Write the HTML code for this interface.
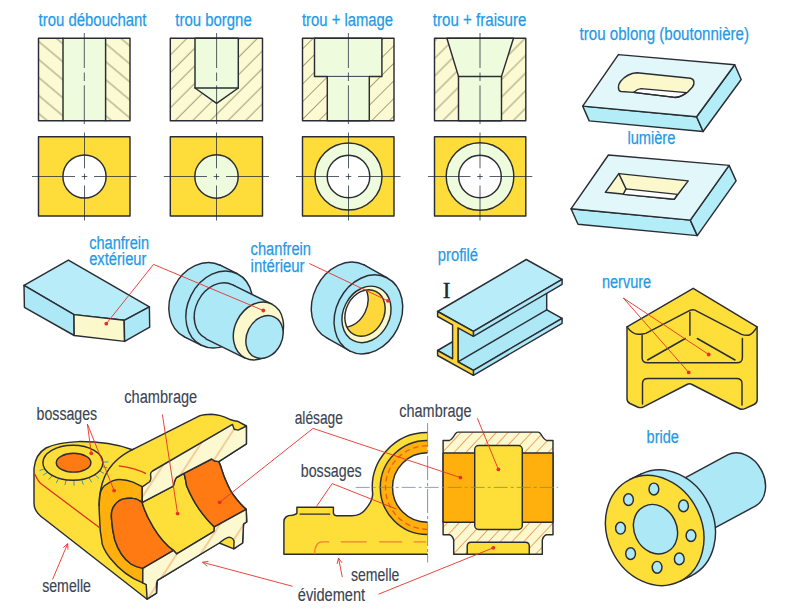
<!DOCTYPE html>
<html><head><meta charset="utf-8">
<style>
html,body{margin:0;padding:0;background:#fff;width:788px;height:614px;overflow:hidden}
svg{display:block}
.bt{font-family:"Liberation Sans",sans-serif;font-size:18px;fill:#1f9ae6;stroke:#1f9ae6;stroke-width:0.25}
.dt{font-family:"Liberation Sans",sans-serif;font-size:18px;fill:#3a4452;stroke:#3a4452;stroke-width:0.15}
.k{stroke:#2a2d33;stroke-width:1.45;stroke-linejoin:round;stroke-linecap:round}
.kt{stroke:#1f2a36;stroke-width:0.9}
.cl{stroke:#1f2a36;stroke-width:0.75;fill:none}
.rl{stroke:#e8302a;stroke-width:0.9;fill:none}
.rd{fill:#e8302a}
</style></head>
<body>
<svg width="788" height="614" viewBox="0 0 788 614">
<defs>
<pattern id="hb" patternUnits="userSpaceOnUse" width="40" height="13.8" patternTransform="rotate(40)">
  <rect width="40" height="13.8" fill="#fbfad3"/>
  <path d="M-1,6.9 H41" stroke="#6b6a3a" stroke-width="0.7"/>
</pattern>
<pattern id="hf2" patternUnits="userSpaceOnUse" width="40" height="12.45" patternTransform="rotate(-45)">
  <rect width="40" height="12.45" fill="#fbfad3"/>
  <path d="M-1,9.9 H41 M-1,22.35 H41" stroke="#66653a" stroke-width="0.65"/>
</pattern>
<pattern id="hf3" patternUnits="userSpaceOnUse" width="40" height="12.45" patternTransform="rotate(-45)">
  <rect width="40" height="12.45" fill="#fbfad3"/>
  <path d="M-1,12.05 H41 M-1,24.5 H41" stroke="#66653a" stroke-width="0.65"/>
</pattern>
<pattern id="hf4" patternUnits="userSpaceOnUse" width="40" height="12.45" patternTransform="rotate(-45)">
  <rect width="40" height="12.45" fill="#fbfad3"/>
  <path d="M-1,0 H41 M-1,12.45 H41" stroke="#66653a" stroke-width="0.65"/>
</pattern>

<pattern id="ho" patternUnits="userSpaceOnUse" width="10" height="10">
  <rect width="10" height="10" fill="#fbf8d2"/>
  <path d="M0,10 L10,0 M-5,5 L5,-5 M5,15 L15,5" stroke="#f0a050" stroke-width="0.7"/>
</pattern>
</defs>

<!-- ============ TOP ROW LABELS ============ -->
<text class="bt" x="38.5" y="25.7" textLength="108" lengthAdjust="spacingAndGlyphs">trou débouchant</text>
<text class="bt" x="175.3" y="25.7" textLength="76.4" lengthAdjust="spacingAndGlyphs">trou borgne</text>
<text class="bt" x="302" y="25.7" textLength="91" lengthAdjust="spacingAndGlyphs">trou + lamage</text>
<text class="bt" x="432.8" y="25.7" textLength="93.6" lengthAdjust="spacingAndGlyphs">trou + fraisure</text>

<!-- col1 section -->
<g>
<rect x="38.5" y="38.2" width="91.5" height="82.6" fill="url(#hb)"/>
<rect x="63" y="38.2" width="42.6" height="82.6" fill="#eefcdd"/>
<rect x="38.5" y="38.2" width="91.5" height="82.6" fill="none" class="k"/>
<path d="M63,38.2 V120.8 M105.6,38.2 V120.8" class="k"/>
<path d="M84.3,33 V68 M84.3,72.5 V81 M84.3,85.3 V124" class="cl"/>
</g>
<!-- col1 plan -->
<g>
<rect x="38.5" y="136.8" width="91.5" height="79.2" fill="#fedd3a" class="k"/>
<circle cx="84.5" cy="176.5" r="21.6" fill="#ffffff" class="k"/>
<path d="M32,176.5 H75 M81.7,176.5 H87.3 M94,176.5 H136.5 M84.5,132.5 V168.3 M84.5,173.8 V179.5 M84.5,185.5 V220.5" class="cl"/>
</g>

<!-- col2 section -->
<g>
<rect x="170.3" y="38.2" width="92.2" height="82.6" fill="url(#hf2)"/>
<path d="M195,38.2 V88 L216.6,103.3 L238.3,88 V38.2 Z" fill="#eefcdd" class="k"/>
<path d="M195,88 H238.3" class="k"/>
<rect x="170.3" y="38.2" width="92.2" height="82.6" fill="none" class="k"/>
<path d="M216.6,33 V68 M216.6,72.5 V81 M216.6,85.3 V124" class="cl"/>
</g>
<g>
<rect x="170.3" y="136.8" width="92.2" height="79.2" fill="#fedd3a" class="k"/>
<circle cx="216.5" cy="176.5" r="21.7" fill="#eefcdd" class="k"/>
<path d="M163.8,176.5 H207 M213.7,176.5 H219.3 M226,176.5 H269 M216.5,132.5 V168.3 M216.5,173.8 V179.5 M216.5,185.5 V220.5" class="cl"/>
</g>

<!-- col3 section -->
<g>
<rect x="302.5" y="38.2" width="91.5" height="82.6" fill="url(#hf3)"/>
<path d="M314.5,38.2 V76.4 H327.3 V120.8 H369.3 V76.4 H381.9 V38.2 Z" fill="#eefcdd" class="k"/>
<path d="M327.3,76.4 H369.3" class="kt"/>
<rect x="302.5" y="38.2" width="91.5" height="82.6" fill="none" class="k"/>
<path d="M348.4,33 V68 M348.4,72.5 V81 M348.4,85.3 V124" class="cl"/>
</g>
<g>
<rect x="302.5" y="136.8" width="91.5" height="79.2" fill="#fedd3a" class="k"/>
<circle cx="348.5" cy="176.5" r="33.5" fill="#eefcdd" class="k"/>
<circle cx="348.5" cy="176.5" r="21.3" fill="#ffffff" class="k"/>
<path d="M296,176.5 H339 M345.7,176.5 H351.3 M358,176.5 H400.5 M348.5,132.5 V168.3 M348.5,173.8 V179.5 M348.5,185.5 V220.5" class="cl"/>
</g>

<!-- col4 section -->
<g>
<rect x="434.5" y="38.2" width="91.3" height="82.6" fill="url(#hf4)"/>
<path d="M446.9,38.2 L458.5,76.4 V120.8 H501.5 V76.4 L513.5,38.2 Z" fill="#eefcdd" class="k"/>
<path d="M458.5,76.4 H501.5" class="k"/>
<rect x="434.5" y="38.2" width="91.3" height="82.6" fill="none" class="k"/>
<path d="M480,33 V68 M480,72.5 V81 M480,85.3 V124" class="cl"/>
</g>
<g>
<rect x="434.5" y="136.8" width="91.3" height="79.2" fill="#fedd3a" class="k"/>
<circle cx="480" cy="176.5" r="33.8" fill="#eefcdd" class="k"/>
<circle cx="480" cy="176.5" r="21.3" fill="#ffffff" class="k"/>
<path d="M428,176.5 H470.5 M477.2,176.5 H482.8 M489.5,176.5 H532.3 M480,132.5 V168.3 M480,173.8 V179.5 M480,185.5 V220.5" class="cl"/>
</g>

<!--TOPRIGHT-->
<text class="bt" x="579.6" y="40.3" textLength="169.4" lengthAdjust="spacingAndGlyphs">trou oblong (boutonnière)</text>
<g>
<path d="M582.7,106.1 L696.6,116.7 L703.1,131.5 L589.2,120.9 Z" fill="#b3eef8" class="k"/>
<path d="M696.6,116.7 L734.7,64.7 L741.2,79.5 L703.1,131.5 Z" fill="#b3eef8" class="k"/>
<path d="M618.4,54.6 L734.7,64.7 L696.6,116.7 L582.7,106.1 Z" fill="#e2f7fa" class="k"/>
<path d="M636.9,72.8 L690.5,78.3 C695,79.5 694.5,84 692.5,87 L687.5,92.3 C684,95 680,97.4 674.7,97.4 L633.3,92.4 L621,91.5 C617.5,90.5 617.8,85 620.5,81.5 C625,76 630,73.3 636.9,72.8 Z" fill="#fbf8cc"/>
<path d="M634.3,91.9 C636.5,89.8 638.5,88.7 641,88.6 L686.4,92.6 C683,95.5 679,97.4 674.7,97.4 L633.3,92.4 Z" fill="#ffffff" class="k"/>
<path d="M636.9,72.8 L690.5,78.3 C695,79.5 694.5,84 692.5,87 L687.5,92.3 C684,95 680,97.4 674.7,97.4 L633.3,92.4 L621,91.5 C617.5,90.5 617.8,85 620.5,81.5 C625,76 630,73.3 636.9,72.8 Z" fill="none" class="k"/>
</g>
<text class="bt" x="627.4" y="144.4" textLength="48" lengthAdjust="spacingAndGlyphs">lumière</text>
<g>
<path d="M571,208.8 L690.3,220.1 L697.3,235.6 L578,224.3 Z" fill="#b3eef8" class="k"/>
<path d="M690.3,220.1 L729.1,165.4 L736.1,180.9 L697.3,235.6 Z" fill="#b3eef8" class="k"/>
<path d="M608.4,155 L729.1,165.4 L690.3,220.1 L571,208.8 Z" fill="#e2f7fa" class="k"/>
<path d="M618.8,173.6 L688.2,180.9 L674.2,199.3 L605.3,192.3 Z" fill="#fbf8cc" class="k"/>
<path d="M626,188.9 L677.4,194.4 L674.2,199.3 L623.2,194.4 Z" fill="#ffffff" class="k"/>
<path d="M618.8,173.6 L626,188.9" class="k"/>
</g>

<!--ROW2-->
<text class="bt" x="89.2" y="249" textLength="60" lengthAdjust="spacingAndGlyphs">chanfrein</text>
<text class="bt" x="89.2" y="265.2" textLength="57.2" lengthAdjust="spacingAndGlyphs">extérieur</text>
<g>
<path d="M68.4,260.1 L149.4,306.9 L124.2,320.3 L74,314.6 L24,285.3 Z" fill="#b8ecf9" class="k"/>
<path d="M24,285.3 L74,314.6 L74.2,335.5 L24.4,307.3 Z" fill="#ade8f7" class="k"/>
<path d="M74,314.6 L124.2,320.3 L124.6,341.4 L74.2,335.5 Z" fill="#fbf8cc" class="k"/>
<path d="M124.2,320.3 L149.4,306.9 L149.7,327.1 L124.6,341.4 Z" fill="#ade8f7" class="k"/>
</g>
<!-- shaft -->
<g>
<ellipse cx="202.3" cy="301" rx="31.6" ry="40" transform="rotate(26.6 202.3 301)" fill="#ade8f7" class="k"/>
<path d="M220.2,265.2 L237.2,273.7 L201.4,345.3 L184.4,336.8 Z" fill="#ade8f7"/>
<path d="M220.2,265.2 L237.2,273.7 M184.4,336.8 L201.4,345.3" class="k"/>
<ellipse cx="219.3" cy="309.5" rx="31.6" ry="40" transform="rotate(26.6 219.3 309.5)" fill="#ade8f7" class="k"/>
<ellipse cx="219.3" cy="311.6" rx="23.7" ry="30" transform="rotate(26.6 219.3 311.6)" fill="#ade8f7" class="k"/>
<path d="M232.7,284.8 L271.8,304.2 L245,358.2 L205.9,338.8 Z" fill="#ade8f7"/>
<path d="M232.7,284.8 L271.8,304.2 M205.9,338.8 L245,358.2" class="k"/>
<ellipse cx="258.4" cy="331" rx="23.7" ry="30" transform="rotate(26.6 258.4 331)" fill="#fbf8cc" class="k"/>
<ellipse cx="264.5" cy="337" rx="17.6" ry="22.3" transform="rotate(26.6 264.5 337)" fill="#ade8f7" class="k"/>
</g>
<polyline points="106.3,323.7 153.5,264.4 263.3,310.5" class="rl"/>
<circle cx="106.3" cy="323.7" r="1.9" class="rd"/>
<circle cx="263.3" cy="310.5" r="1.9" class="rd"/>

<text class="bt" x="250.6" y="255.3" textLength="60.4" lengthAdjust="spacingAndGlyphs">chanfrein</text>
<text class="bt" x="250.6" y="271.5" textLength="54" lengthAdjust="spacingAndGlyphs">intérieur</text>
<!-- ring -->
<defs><clipPath id="boreclip"><ellipse cx="365" cy="313" rx="19" ry="24.2" transform="rotate(26.6 365 313)"/></clipPath></defs>
<g>
<ellipse cx="345.6" cy="301.5" rx="32.4" ry="41" transform="rotate(26.6 345.6 301.5)" fill="#ade8f7" class="k"/>
<path d="M364,264.8 L386.8,277.7 L350.2,351.1 L327.2,338.2" fill="#ade8f7"/>
<path d="M364,264.8 L386.8,277.7 M327.2,338.2 L350.2,351.1" class="k"/>
<ellipse cx="368.4" cy="314.4" rx="32.4" ry="41" transform="rotate(26.6 368.4 314.4)" fill="#ade8f7" class="k"/>
<ellipse cx="366.5" cy="314.4" rx="23.2" ry="29.3" transform="rotate(26.6 366.5 314.4)" fill="#fbf8cc" class="k"/>
<ellipse cx="365" cy="313" rx="19" ry="24.2" transform="rotate(26.6 365 313)" fill="#fed83a"/>
<g clip-path="url(#boreclip)"><ellipse cx="348" cy="304" rx="19" ry="24.2" transform="rotate(26.6 348 304)" fill="#ffffff" class="k"/></g>
<ellipse cx="365" cy="313" rx="19" ry="24.2" transform="rotate(26.6 365 313)" fill="none" class="k"/>
</g>
<polyline points="309.3,263.5 387.9,300.8" class="rl"/>
<circle cx="387.9" cy="300.8" r="1.9" class="rd"/>

<!-- I beam -->
<text class="bt" x="437.8" y="261" textLength="40.3" lengthAdjust="spacingAndGlyphs">profilé</text>
<text x="442.8" y="297.6" style="font-family:'Liberation Serif',serif;font-size:23px;fill:#1f2a36;stroke:#1f2a36;stroke-width:0.4">I</text>
<g>
<path d="M437.6,350.5 L473.4,370.3 L562.1,318.3 L526.3,298.5 Z" fill="#ade8f7" class="k"/>
<path d="M473.4,370.3 L562.1,318.3 L562.1,323.3 L473.4,375.3 Z" fill="#ade8f7" class="k"/>
<path d="M458,327.8 L546.7,275.8 L546.7,309.8 L458,361.8 Z" fill="#ade8f7" class="k"/>
<path d="M437.6,311.5 L473.4,331.3 L562.1,279.3 L526.3,259.5 Z" fill="#b8ecf9" class="k"/>
<path d="M473.4,331.3 L562.1,279.3 L562.1,284.3 L473.4,336.3 Z" fill="#ade8f7" class="k"/>
<path d="M437.6,311.5 L473.4,331.3 L473.4,336.3 L458,327.8 L458,361.8 L473.4,370.3 L473.4,375.3 L437.6,355.5 L437.6,350.5 L452.6,358.8 L452.6,324.8 L437.6,316.5 Z" fill="#fed83a" class="k"/>
</g>

<!-- nervure -->
<text class="bt" x="601.9" y="287.9" textLength="49.3" lengthAdjust="spacingAndGlyphs">nervure</text>
<g>
<path d="M693.2,288.3 L757.1,326.9 L757.2,400 Q757.2,403 754,404.5 L745,408.6 Q742,410 739,408.5 L692,384.5 Q689.5,383.2 687,384.5 L643.5,406.8 Q640.5,408.3 637.5,407 L630,403.5 Q627,402 627,399 L627,326.9 Z" fill="#fedf3a" class="k"/>
<path d="M627,326.9 C630,331 634,334.3 638.4,334.3 C641,334.3 643,333.8 645.8,333.4 L689.9,310.4 Q693.6,308.6 697.3,311.3 L741.5,334.3 C744,335.3 746.5,335.2 748.8,335.2 C752,334 755,330.5 757.1,326.9" fill="none" class="k"/>
<path d="M642.1,335.2 V357.5 Q642.1,362.8 647.6,362.8 H736.9 Q742.4,362.8 742.4,357.5 V338.5" fill="none" class="k"/>
<path d="M689.9,312.2 V335.2 M647.6,360 L685.3,338.5 M697.3,338.5 L735,360" class="k"/>
<path d="M642.5,404.1 V383.5 Q642.5,378.5 648,378.5 H736.5 Q742,378.5 742,383.5 V405.1" fill="none" class="k"/>
</g>
<polyline points="708.7,354.5 623.3,298 688.7,372.4" class="rl"/>
<circle cx="708.7" cy="354.5" r="1.9" class="rd"/>
<circle cx="688.7" cy="372.4" r="1.9" class="rd"/>

<!-- bride -->
<text class="bt" x="646.6" y="443" textLength="32.3" lengthAdjust="spacingAndGlyphs">bride</text>
<g>
<path d="M675.3,483.1 L728.1,454.7 A22.8,29.1 -28.3 0 1 755.7,505.9 L701.8,534.9 Z" fill="#ade8f7"/>
<path d="M675.3,483.1 L728.1,454.7 A22.8,29.1 -28.3 0 1 755.7,505.9 L701.8,534.9" fill="none" class="k"/>
<ellipse cx="666.2" cy="524.9" rx="47.3" ry="56.7" transform="rotate(-26 666.2 524.9)" fill="#ade8f7" class="k"/>
<path d="M629.9,479.5 L641.4,473.9 L691,575.9 L679.5,581.5 Z" fill="#ade8f7"/>
<path d="M629.9,479.5 L641.4,473.9 M679.5,581.5 L691,575.9" class="k"/>
<ellipse cx="654.7" cy="530.5" rx="47.3" ry="56.7" transform="rotate(-26 654.7 530.5)" fill="#fedf3a" class="k"/>
<ellipse cx="655.5" cy="529.2" rx="21.2" ry="25.5" transform="rotate(-26 655.5 529.2)" fill="#ade8f7" class="k"/>
<g fill="#ade8f7" class="k">
<ellipse cx="653.9" cy="489" rx="4.9" ry="5.9"/>
<ellipse cx="628.5" cy="499.6" rx="4.9" ry="5.9"/>
<ellipse cx="683.5" cy="505.9" rx="4.9" ry="5.9"/>
<ellipse cx="620.5" cy="528.2" rx="4.9" ry="5.9"/>
<ellipse cx="691" cy="535.6" rx="4.9" ry="5.9"/>
<ellipse cx="630.6" cy="553.6" rx="4.9" ry="5.9"/>
<ellipse cx="679.3" cy="558.9" rx="4.9" ry="5.9"/>
<ellipse cx="657.1" cy="567.3" rx="4.9" ry="5.9"/>
</g>
</g>

<!--BOTTOM-->
<defs>
<pattern id="hl" patternUnits="userSpaceOnUse" width="40" height="20" patternTransform="rotate(-57)">
  <rect width="40" height="20" fill="#fcf9d0"/>
  <path d="M-1,10 H41" stroke="#ee8a48" stroke-width="0.8"/>
</pattern>
</defs>
<!-- labels bottom -->
<text class="dt" x="36.6" y="419.8" textLength="60.6" lengthAdjust="spacingAndGlyphs">bossages</text>
<text class="dt" x="124.3" y="402.5" textLength="72.9" lengthAdjust="spacingAndGlyphs">chambrage</text>
<text class="dt" x="42.2" y="592" textLength="48.7" lengthAdjust="spacingAndGlyphs">semelle</text>

<g id="leftpiece">
<!-- body silhouette -->
<path d="M34,468.5 C35,458 40,451.5 46,448 C55,443.5 66,442 78.7,441.6 C100,441.5 118,444.5 132.5,449.7 L198.4,416.3 C203,414.5 207,414.3 211.4,414.3 C218,414.5 224,416.5 229.3,419.2 L232.5,420.3 C235,421 236,421.2 237.4,421.2 L246.4,426 L246.4,443.9 L218.8,461.6 C221,466 222,471 224.2,476.9 C227,483 229,489 233.2,494.8 C237,500 241,505 246.2,509.4 L246.7,522 L243.5,524.2 L242.6,543 L233.7,548.8 L219.3,543 L157.4,580.4 L156.5,593.2 L147.1,599.2 L45,519.5 Q34,512.5 34,503 Z" fill="#fedf3a" class="k"/>
<!-- ring face -->
<path d="M99.8,494.5 C101,489 103,486 106.9,484.1 C111,481 115,479.5 120,479.5 C125,479.5 129,480.5 133,482.1 C136,483.5 139,485 142.1,486.7 L142.1,502.3 C139,500 136,498.6 133,498.4 C129,498 126,498.3 122.6,499.1 C118,500.5 115,504 112.8,508.2 C111.5,511 111.2,515 111.5,518.6 C112,526 113,533 114.8,540 C118,550 124,559 131,564 C135,566.5 139,567.8 142.8,568.4 L142.8,582.9 C130,578 118,568 110,558 C104,550 101.5,545 101.7,540 C100.5,534 99.8,528 99.8,522.5 C99.5,514 99,510 99.1,505.6 C99.3,501 99.5,497 99.8,494.5 Z" fill="#ffb00c" class="k"/>
<!-- housing left silhouette above ring -->
<path d="M133.5,449.2 C121,455 110,465 104.5,477 C101,485 99.3,495 99.1,505.6" fill="none" class="k"/>
<!-- left orange -->
<path d="M112.8,508.2 C115,504 118,500.5 122.6,499.1 C126,498.3 129,498 133,498.4 C136,498.6 139,500 142.1,502.3 C145.5,515 158,540 173.6,550.4 L142.8,568.4 C139,567.8 135,566.5 131,564 C124,559 118,550 114.8,540 C113,533 112,526 111.5,518.6 C111.2,515 111.5,511 112.8,508.2 Z" fill="#ff7a12" class="k"/>
<!-- middle yellow chambrage -->
<path d="M142.3,502.3 L173.3,486.1 C174.3,482 175,479 176.5,477.5 L183.9,473.3 C185.5,478 186,482 186.6,485.8 C190,494 194,502 199.1,509.1 C204,516 209,522 214.4,526.9 C214.5,529 214.3,530.5 214,531.4 L176.7,553.9 C175.5,553 174.8,552 173.6,550.4 C158,540 145.5,515 142.1,502.3 Z" fill="#fedf3a" class="k"/>
<!-- right orange -->
<path d="M183.9,473.3 L211.7,459 L214.6,461 L218.8,461.6 C221,466 222,471 224.2,476.9 C227,483 229,489 233.2,494.8 C237,500 241,505 246.2,509.4 L214.4,526.9 C209,522 204,516 199.1,509.1 C194,502 190,494 186.6,485.8 C186,482 185.5,478 183.9,473.3 Z" fill="#ff7a12" class="k"/>
<!-- top band section -->
<path d="M142.3,486.9 L149.3,482 C151.2,480.5 151,477 150.5,474.7 C150.5,473 151.3,471.8 152.5,471 L232.5,424.4 L234.2,429.3 L238.2,430.1 L246.4,426 L246.4,443.9 L218.8,461.6 L214.6,461 L211.7,459 L183.9,473.3 L176.5,477.5 C175,479 174.3,482 173.3,486.1 L142.3,502.3 Z" fill="url(#hl)" class="k"/>
<!-- bottom band section -->
<path d="M142.8,568.4 L173.6,550.4 L176.7,553.9 L214,531.4 L214.4,526.9 L246.2,509.4 L246.7,522 L243.5,524.2 L242.6,543 L233.7,548.8 L234.1,541.2 C233.5,539 232.5,538 231,537.6 C229.5,537.2 228.5,537.2 227.4,537.6 C224,539 221.5,541 219.3,543 L157.4,580.4 L156.5,583.8 L156.5,593.2 L147.1,599.2 L146.2,584.6 L142.8,582.9 Z" fill="url(#hl)" class="k"/>
<!-- semelle red edge -->
<path d="M34.9,473.9 C36.5,478 38.5,481.5 41.1,483.7 L99.3,527.6" fill="none" stroke="#e0301e" stroke-width="1.3"/>
<path d="M118.7,465.9 C127,467 138,469.5 146,473.7" fill="none" stroke="#e0301e" stroke-width="1.3"/>
<!-- boss -->
<g stroke="#2a90b8" stroke-width="0.9" fill="none"><path d="M44.7,468.7 L39.5,470.6 M47.7,472.2 L43.1,475.2 M52.4,475.5 L48.7,479.5 M58.8,478.2 L56.2,483.0 M66.2,479.8 L64.9,485.1 M73.9,480.2 L74.1,485.7 M81.7,479.4 L83.3,484.7 M88.8,477.5 L91.7,482.2 M94.8,474.6 L98.9,478.4 M99.4,470.9 L104.2,473.5 M102.1,466.6 L107.5,467.9 M102.9,462.1 L108.4,461.9"/></g>
<ellipse cx="72.9" cy="462.7" rx="30" ry="17.5" fill="#fedf3a" class="k"/>
<ellipse cx="73.6" cy="462.7" rx="17.3" ry="9.4" fill="#ff7a12" class="k"/>
</g>
<!-- left piece leaders -->
<polyline points="91.3,453.3 87.4,424 114.1,490.6" class="rl"/>
<circle cx="91.3" cy="453.3" r="1.9" class="rd"/>
<circle cx="114.1" cy="490.6" r="1.9" class="rd"/>
<polyline points="162.4,414.5 177.6,513.6" class="rl"/>
<circle cx="177.6" cy="513.6" r="1.9" class="rd"/>
<circle cx="219.7" cy="502.3" r="1.9" class="rd"/>
<path d="M52.6,579.4 L67.7,543.6 M63.25,547.6 L67.7,543.6 L67.9,549.6" class="rl"/>
<!--MIDDLE-->
<defs>
<pattern id="hm" patternUnits="userSpaceOnUse" width="40" height="8.6" patternTransform="rotate(-47)">
  <rect width="40" height="8.6" fill="#fcf9d0"/>
  <path d="M-1,4.3 H41" stroke="#ee8a48" stroke-width="0.8"/>
</pattern>
</defs>
<text class="dt" x="294.7" y="424.1" textLength="48.2" lengthAdjust="spacingAndGlyphs">alésage</text>
<text class="dt" x="399.3" y="416.5" textLength="72.3" lengthAdjust="spacingAndGlyphs">chambrage</text>
<text class="dt" x="300.8" y="476.6" textLength="60.9" lengthAdjust="spacingAndGlyphs">bossages</text>
<text class="dt" x="351" y="580.9" textLength="48.4" lengthAdjust="spacingAndGlyphs">semelle</text>
<text class="dt" x="297.8" y="600.7" textLength="67.3" lengthAdjust="spacingAndGlyphs">évidement</text>
<g id="midpiece">
<path d="M427.3,554.2 H283.9 V521.7 C284,517.5 287.5,515.2 292.3,515.2 C294.5,515 296.2,514.5 296.9,513.2 V507.2 H333.4 V513.2 C334,515 335,515.7 336.6,515.7 H351.9 C358,515.7 362,513.5 364.5,510.5 C369,505.5 372.6,501 372.7,494 A54.9,54.9 0 0 1 427.3,432.6 Z" fill="#fedf3a"/>
<path d="M427.3,487.5 m0,-34.8 A34.8,34.8 0 0 0 427.3,522.3 Z" fill="#ffffff"/>
<path d="M427.3,554.2 H283.9 V521.7 C284,517.5 287.5,515.2 292.3,515.2 C294.5,515 296.2,514.5 296.9,513.2 V507.2 H333.4 V513.2 C334,515 335,515.7 336.6,515.7 H351.9 C358,515.7 362,513.5 364.5,510.5 C369,505.5 372.6,501 372.7,494 A54.9,54.9 0 0 1 427.3,432.6" fill="none" class="k"/>
<path d="M427.3,440.5 A47,47 0 0 0 427.3,534.5 V522.3 A34.8,34.8 0 0 1 427.3,452.7 Z" fill="#ffb00c"/>
<path d="M427.3,440.5 A47,47 0 0 0 427.3,534.5 M427.3,522.3 A34.8,34.8 0 0 1 427.3,452.7" fill="none" class="k"/>
<path d="M427.3,445.7 A41.8,41.8 0 0 0 427.3,529.3" fill="none" stroke="#f05a20" stroke-width="1.3" stroke-dasharray="5.5 3.5"/>
<path d="M300.1,514.1 H329.7" class="k"/>
<path d="M314.5,554 C314.8,546 317.5,541.8 322.3,541.8 H426" fill="none" stroke="#f08030" stroke-width="1.2" stroke-dasharray="23 11.5 26 12.4"/>
</g>
<g id="section">
<path d="M443.1,440.4 H449.4 C452,439.8 453.5,437 455.1,434.1 C456,432.8 456.8,432.1 457.9,432.1 H538.1 C539.2,432.1 540,432.8 540.9,434.1 C542.5,437 544,439.8 546.6,440.4 H553 V534.7 H546.5 C544,535.4 543,537.5 542.3,540 V554.3 H453.7 V540 C453,537.5 452,535.4 449.5,534.7 H443.1 Z" fill="url(#hm)" class="k"/>
<rect x="443.1" y="452.9" width="109.9" height="69.4" fill="#ffb00c" class="k"/>
<rect x="474.7" y="445.5" width="47.6" height="84" rx="4" fill="#fedf3a" class="k"/>
<path d="M467.2,554.3 V546.3 Q467.2,542.3 471.2,542.3 H525.3 Q529.3,542.3 529.3,546.3 V554.3 Z" fill="#fedf3a" class="k"/>
</g>
<path d="M355.7,487.4 H558" fill="none" stroke="#7a86a8" stroke-width="0.8" stroke-dasharray="14 3 3 3"/>
<path d="M427.6,423 V562.5" fill="none" stroke="#7a86a8" stroke-width="0.9" stroke-dasharray="24 3 3 3"/>
<polyline points="219.7,502.3 313,428.4 460.4,477.6" class="rl"/>
<circle cx="460.4" cy="477.6" r="1.9" class="rd"/>
<polyline points="477.3,418.2 498.4,469.4" class="rl"/>
<circle cx="498.4" cy="469.4" r="1.9" class="rd"/>
<polyline points="316.3,506.7 332.2,483.6 396.3,509" class="rl"/>
<path d="M342.3,577.1 L338.5,558.1 M337.1,563.9 L338.5,558.1 L342.1,562.9" class="rl"/>
<path d="M292.6,586.3 L202.6,562.3 M207.2,566.2 L202.6,562.3 L208.5,561.3" class="rl"/>
<polyline points="378.5,594.2 493.3,547.8" class="rl"/>
<circle cx="493.3" cy="547.8" r="1.9" class="rd"/>


</svg>
</body></html>
